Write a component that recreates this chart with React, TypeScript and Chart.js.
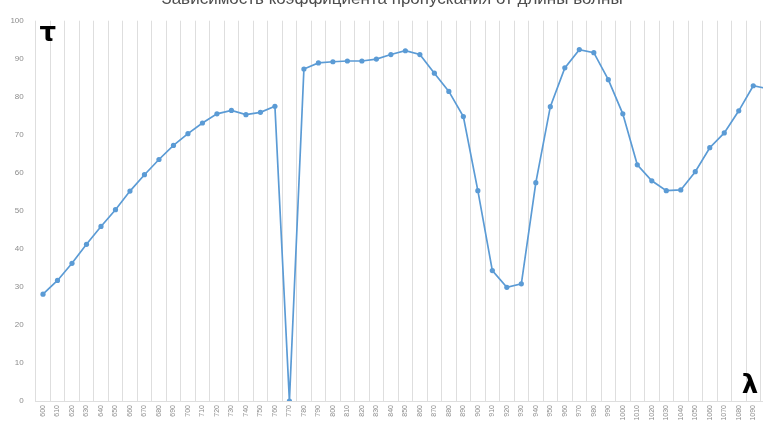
import React, { useEffect, useRef } from "react";
import { Chart, registerables } from "chart.js";

Chart.register(...registerables);

const wavelengths = [
  "600", "610", "620", "630", "640", "650", "660", "670", "680", "690",
  "700", "710", "720", "730", "740", "750", "760", "770", "780", "790",
  "800", "810", "820", "830", "840", "850", "860", "870", "880", "890",
  "900", "910", "920", "930", "940", "950", "960", "970", "980", "990",
  "1000", "1010", "1020", "1030", "1040", "1050", "1060", "1070", "1080", "1090",
  "1100",
];

const transmittance = [
  28.1, 31.7, 36.2, 41.2, 45.9, 50.3, 55.2, 59.5, 63.5, 67.2,
  70.3, 73.1, 75.5, 76.4, 75.3, 75.9, 77.5, 0, 87.3, 88.9,
  89.2, 89.4, 89.4, 89.9, 91.1, 92.1, 91.1, 86.2, 81.4, 74.8,
  55.3, 34.3, 29.9, 30.8, 57.4, 77.4, 87.6, 92.4, 91.6, 84.5,
  75.5, 62.1, 57.9, 55.3, 55.5, 60.3, 66.6, 70.5, 76.3, 82.9,
  82.1,
];

const yTicks = [0, 10, 20, 30, 40, 50, 60, 70, 80, 90, 100];

const titleText = "Зависимость коэффициента пропускания от длины волны";
const yLabel = "τ";
const xLabel = "λ";

const CANVAS_W = 790;
const CANVAS_H = 450;
const TOP_SHIFT = 20;

const textPlugin = {
  id: "textPlugin",
  afterDraw(chart: any) {
    const ctx = chart.ctx;
    const area = chart.chartArea;
    ctx.save();
    // title (cut off at top)
    ctx.fillStyle = "#4d4d4d";
    ctx.font = "17px 'Liberation Sans', Arial, sans-serif";
    ctx.textAlign = "center";
    ctx.textBaseline = "alphabetic";
    ctx.fillText(titleText, 392, TOP_SHIFT + 3.5);
    // tau
    ctx.fillStyle = "#000000";
    ctx.font = "bold 26px 'DejaVu Sans', sans-serif";
    ctx.textAlign = "center";
    ctx.textBaseline = "middle";
    ctx.fillText(yLabel, area.left + 12, area.top + 14);
    // lambda
    ctx.fillText(xLabel, 750, area.bottom - 15);
    ctx.restore();
  },
};

export default function App() {
  const ref = useRef<HTMLCanvasElement | null>(null);

  useEffect(() => {
    if (!ref.current) return;
    const chart = new Chart(ref.current, {
      type: "line",
      data: {
        labels: wavelengths,
        datasets: [
          {
            data: transmittance,
            borderColor: "#5B9BD5",
            backgroundColor: "#5B9BD5",
            borderWidth: 1.7,
            pointRadius: 2.6,
            pointBorderWidth: 0,
            pointBackgroundColor: "#5B9BD5",
            tension: 0,
          },
        ],
      },
      options: {
        animation: false,
        responsive: false,
        maintainAspectRatio: false,
        devicePixelRatio: 1,
        layout: { padding: { left: 0, right: 15, top: 40.7, bottom: 0 } },
        plugins: {
          legend: { display: false },
          tooltip: { enabled: false },
          title: { display: false },
        },
        scales: {
          x: {
            type: "category",
            offset: true,
            grid: {
              display: true,
              offset: true,
              color: "#dedede",
              lineWidth: 1,
              drawTicks: false,
            },
            border: { display: true, color: "#dedede" },
            ticks: {
              autoSkip: false,
              maxRotation: 90,
              minRotation: 90,
              padding: 4,
              color: "#8c8c8c",
              font: { size: 7, family: "'Liberation Sans', Arial, sans-serif" },
            },
            afterFit(scale: any) {
              scale.height = 29;
            },
          },
          y: {
            min: 0,
            max: 100,
            afterBuildTicks(scale: any) {
              scale.ticks = yTicks.map((v) => ({ value: v }));
            },
            grid: { display: false, drawTicks: false },
            border: { display: false },
            ticks: {
              padding: 12,
              color: "#8c8c8c",
              font: { size: 8, family: "'Liberation Sans', Arial, sans-serif" },
            },
            afterFit(scale: any) {
              scale.width = 35.75;
            },
          },
        },
      },
      plugins: [textPlugin],
    });
    return () => chart.destroy();
  }, []);

  return (
    <div
      style={{
        position: "fixed",
        left: 0,
        top: 0,
        width: 763,
        height: 430,
        overflow: "hidden",
        background: "#ffffff",
      }}
    >
      <canvas
        ref={ref}
        width={CANVAS_W}
        height={CANVAS_H}
        style={{
          position: "absolute",
          left: 0,
          top: -TOP_SHIFT,
          width: CANVAS_W,
          height: CANVAS_H,
        }}
      />
    </div>
  );
}
